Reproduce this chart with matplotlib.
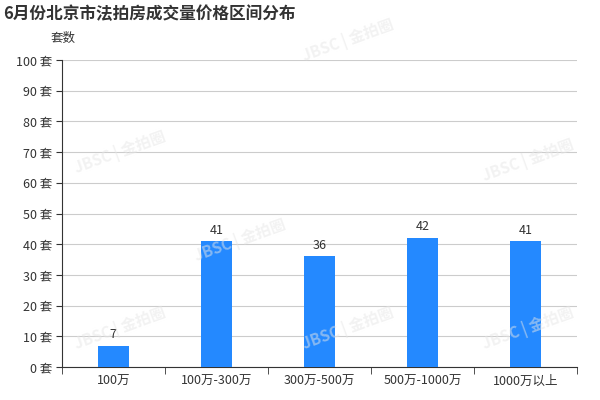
import matplotlib.pyplot as plt
import numpy as np

plt.rcParams['font.family'] = ['Noto Sans CJK SC', 'DejaVu Sans']

categories = ['100万', '100万-300万', '300万-500万', '500万-1000万', '1000万以上']
values = [7, 41, 36, 42, 41]
yticks = list(range(0, 101, 10))

fig = plt.figure(figsize=(6, 4), dpi=100)
ax = fig.add_axes([0.103, 0.0825, 0.859, 0.7675])

x = np.arange(len(categories))
ax.bar(x, values, width=0.3, color='#2489ff', zorder=3)
for xi, v in zip(x, values):
    ax.text(xi, v + 1.5, str(v), ha='center', va='bottom', fontsize=9, color='#333333')

ax.set_xlim(-0.5, len(categories) - 0.5)
ax.set_ylim(0, 100)
ax.set_yticks(yticks)
ax.set_yticklabels([f'{t} 套' for t in yticks], fontsize=9, color='#333333')
ax.set_xticks(x)
ax.set_xticklabels(categories, fontsize=9, color='#333333')
ax.set_xticks(np.arange(-0.5, len(categories)), minor=True)
ax.tick_params(axis='x', which='major', length=0, pad=6)
ax.tick_params(axis='x', which='minor', length=5, color='#333333')
ax.tick_params(axis='y', length=4, color='#333333', pad=3)
ax.grid(axis='y', color='#cccccc', linewidth=0.8, zorder=0)
for s in ['top', 'right']:
    ax.spines[s].set_visible(False)
ax.spines['left'].set_color('#333333')
ax.spines['bottom'].set_color('#333333')

fig.text(0.005, 0.965, '6月份北京市法拍房成交量价格区间分布', fontsize=12, fontweight='bold',
         color='#333333', va='center')
fig.text(0.085, 0.905, '套数', fontsize=9, color='#333333', va='center')

# watermarks
for wx, wy in [(0.2, 0.62), (0.58, 0.9), (0.2, 0.18), (0.4, 0.4), (0.58, 0.18), (0.88, 0.6), (0.88, 0.18)]:
    fig.text(wx, wy, 'JBSC | 金拍圈', fontsize=11, fontweight='bold', color='#e6e6e6',
             alpha=0.5, rotation=20, ha='center', va='center', zorder=0)

fig.savefig('out.png', dpi=100)
